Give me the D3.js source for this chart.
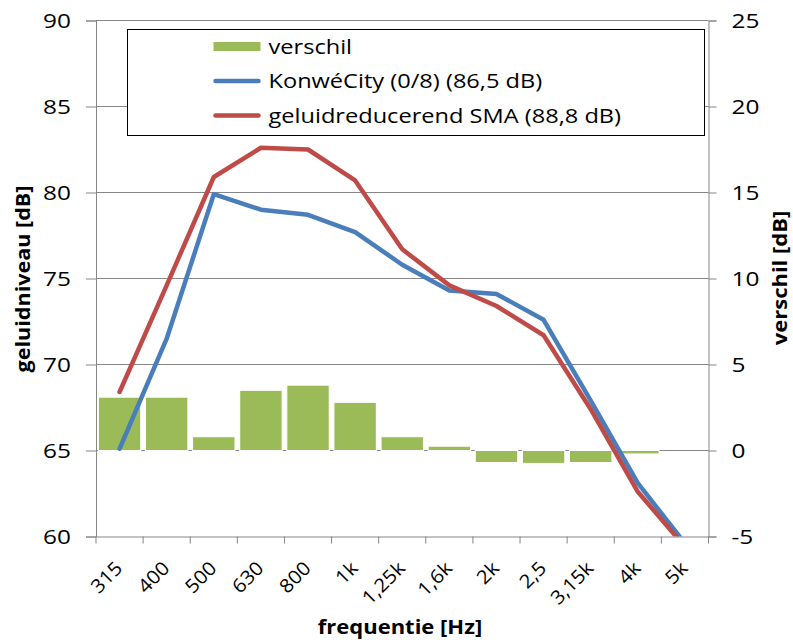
<!DOCTYPE html>
<html>
<head>
<meta charset="utf-8">
<script src="https://cdn.jsdelivr.net/npm/d3@7"></script>
<style>
  body { margin: 0; background: #fff; }
  text { font-family: "Open Sans", "Noto Sans", sans-serif; fill: #000; }
</style>
</head>
<body>
<div id="chart"></div>
<script>
var categories = ["315", "400", "500", "630", "800", "1k", "1,25k", "1,6k", "2k", "2,5", "3,15k", "4k", "5k"];
var konwe = [65.1, 71.5, 79.9, 79.0, 78.7, 77.7, 75.8, 74.3, 74.1, 72.6, 67.9, 63.1, 59.6];
var sma = [68.4, 74.6, 80.9, 82.6, 82.5, 80.7, 76.7, 74.6, 73.4, 71.7, 67.4, 62.6, 59.4];
var verschil = [3.1, 3.1, 0.8, 3.5, 3.8, 2.8, 0.8, 0.25, -0.7, -0.75, -0.7, -0.2, 0];
var leftTicks = [60, 65, 70, 75, 80, 85, 90];
var rightTicks = [-5, 0, 5, 10, 15, 20, 25];
var legendLabels = ["verschil", "KonwéCity (0/8) (86,5 dB)", "geluidreducerend SMA (88,8 dB)"];

var margin = {top: 20.5, right: 84.5, bottom: 107.5, left: 96},
    width = 793 - margin.left - margin.right,
    height = 644 - margin.top - margin.bottom;

var svg = d3.select("#chart").append("svg")
    .attr("width", 793)
    .attr("height", 644);

var g = svg.append("g")
    .attr("transform", "translate(" + margin.left + "," + margin.top + ")");

var x = d3.scaleBand().domain(categories).range([0, width]).paddingInner(0.1).paddingOuter(0.05);
var xc = d3.scaleBand().domain(categories).range([0, width]);
var y = d3.scaleLinear().domain([60, 90]).range([height, 0]);
var y2 = d3.scaleLinear().domain([-5, 25]).range([height, 0]);

var gridColor = "#868686";

// the original text is drawn wide, so stretch it a bit horizontally
function stretchText(parent, px, py, rot, sx, str, size, anchor, bold) {
    var t = parent.append("text")
        .attr("transform", "translate(" + px + "," + py + ") rotate(" + rot + ") scale(" + sx + ",1)")
        .attr("text-anchor", anchor)
        .style("font-size", size + "px")
        .text(str);
    if (bold) t.style("font-weight", "bold");
    return t;
}

// gridlines
g.selectAll(".grid")
    .data(leftTicks.slice(1))
    .enter().append("line")
    .attr("x1", 0).attr("x2", width)
    .attr("y1", d => y(d)).attr("y2", d => y(d))
    .attr("stroke", gridColor)
    .attr("stroke-width", 1);

// bars
g.selectAll(".bar")
    .data(verschil)
    .enter().append("rect")
    .attr("x", (d, i) => x(categories[i]))
    .attr("width", x.bandwidth())
    .attr("y", d => Math.min(y2(d), y2(0)))
    .attr("height", d => Math.abs(y2(d) - y2(0)))
    .attr("fill", "#9bbb59")
    .attr("stroke", "#fff")
    .attr("stroke-width", 1);

// lines
g.append("clipPath").attr("id", "clip")
    .append("rect").attr("x", 0).attr("y", 0).attr("width", width).attr("height", height);

var line = d3.line()
    .x((d, i) => xc(categories[i]) + xc.bandwidth() / 2)
    .y(d => y(d));

g.append("path")
    .datum(konwe)
    .attr("clip-path", "url(#clip)")
    .attr("d", line)
    .attr("fill", "none")
    .attr("stroke", "#4a7ebb")
    .attr("stroke-width", 4.5)
    .attr("stroke-linejoin", "round")
    .attr("stroke-linecap", "round");

g.append("path")
    .datum(sma)
    .attr("clip-path", "url(#clip)")
    .attr("d", line)
    .attr("fill", "none")
    .attr("stroke", "#be4b48")
    .attr("stroke-width", 4.5)
    .attr("stroke-linejoin", "round")
    .attr("stroke-linecap", "round");

// axes (labels drawn separately)
var yAxis = d3.axisLeft(y).tickValues(leftTicks).tickSize(10).tickFormat("");
var y2Axis = d3.axisRight(y2).tickValues(rightTicks).tickSize(8).tickFormat("");
var xAxis = d3.axisBottom(xc).tickSize(0).tickFormat("");

var ay = g.append("g").call(yAxis);
var ay2 = g.append("g").attr("transform", "translate(" + width + ",0)").call(y2Axis);
var ax = g.append("g").attr("transform", "translate(0," + height + ")").call(xAxis);

[ay, ay2, ax].forEach(function(a) {
    a.select(".domain").attr("stroke", gridColor);
    a.selectAll(".tick line").attr("stroke", gridColor);
});

leftTicks.forEach(function(v) {
    stretchText(g, -25, y(v), 0, 1.22, String(v), 20, "end").attr("dy", "0.35em");
});
rightTicks.forEach(function(v) {
    stretchText(g, width + 23, y2(v), 0, 1.22, String(v), 20, "start").attr("dy", "0.35em");
});

// category boundary ticks
var bounds = categories.map(c => xc(c)).concat([width]);
ax.selectAll(".bound")
    .data(bounds)
    .enter().append("line")
    .attr("x1", d => d).attr("x2", d => d)
    .attr("y1", 0).attr("y2", 7)
    .attr("stroke", gridColor);

// rotated category labels
categories.forEach(function(c) {
    stretchText(ax, xc(c) + xc.bandwidth() / 2 + 4, 33, -45, 1.08, c, 19, "end");
});

// axis titles
stretchText(svg, 30, 279, -90, 1.08, "geluidniveau [dB]", 20, "middle", true);
stretchText(svg, 787, 278, -90, 1.1, "verschil [dB]", 20, "middle", true);
stretchText(svg, 400, 634, 0, 1.1, "frequentie [Hz]", 20, "middle", true);

// legend
var legend = svg.append("g").attr("transform", "translate(127.5,29.5)");
legend.append("rect")
    .attr("width", 577).attr("height", 106)
    .attr("fill", "#fff")
    .attr("stroke", "#000")
    .attr("stroke-width", 1);

var legendColors = ["#9bbb59", "#4a7ebb", "#be4b48"];
legendLabels.forEach(function(lbl, i) {
    var cy = 17 + i * 34.5;
    if (i === 0) {
        legend.append("rect")
            .attr("x", 86).attr("y", cy - 4.5)
            .attr("width", 47).attr("height", 9)
            .attr("fill", legendColors[i]);
    } else {
        legend.append("line")
            .attr("x1", 88).attr("x2", 131)
            .attr("y1", cy).attr("y2", cy)
            .attr("stroke", legendColors[i])
            .attr("stroke-width", 4.5)
            .attr("stroke-linecap", "round");
    }
    stretchText(legend, 141, cy, 0, 1.18, lbl, 20, "start").attr("dy", "0.35em");
});
</script>
</body>
</html>
